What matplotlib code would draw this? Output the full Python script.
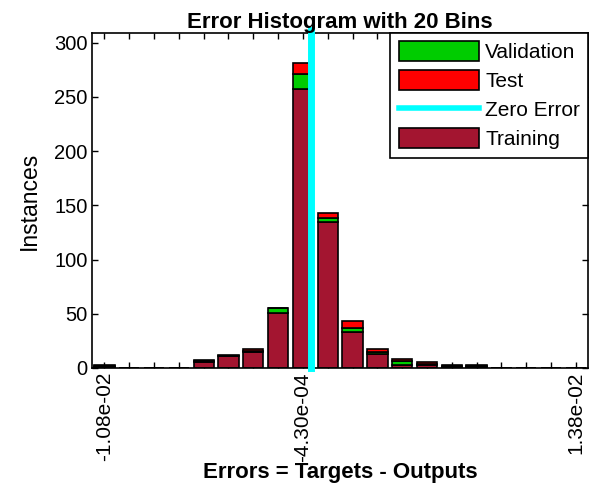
import numpy as np
import matplotlib
matplotlib.use("Agg")
import matplotlib.pyplot as plt
from matplotlib.patches import Patch
from matplotlib.lines import Line2D

plt.rcParams['font.family'] = ['Liberation Sans', 'DejaVu Sans']

# Histogram range (first and last bin centers), 20 bins
first_center = -1.08e-2
last_center = 1.38e-2
n_bins = 20
zero_bin_label = "-4.30e-04"
tick_labels = ["-1.08e-02", zero_bin_label, "1.38e-02"]
tick_bins = [0, 8, 19]

training = [1, 0, 0, 0, 5, 11, 15, 51, 257, 135, 33, 13, 3, 3, 1, 1, 0, 0, 0, 0]
validation = [1, 0, 0, 0, 1, 0, 1, 4, 14, 3, 4, 2, 3, 1, 1, 1, 0, 0, 0, 0]
test = [1, 0, 0, 0, 1, 1, 1, 0, 10, 5, 6, 2, 2, 1, 1, 1, 0, 0, 0, 0]

c_train = '#A31530'
c_val = '#00CC00'
c_test = '#FF0000'
c_zero = '#00FFFF'

w = (last_center - first_center) / (n_bins - 1)
centers = first_center + w * np.arange(n_bins)
training = np.array(training)
validation = np.array(validation)
test = np.array(test)

fig = plt.figure(figsize=(5.90, 4.86), dpi=100)
ax = fig.add_axes([0.156, 0.243, 0.841, 0.689])

bw = 0.82 * w
ax.bar(centers, training, width=bw, color=c_train, edgecolor='black', linewidth=1.2, zorder=2)
ax.bar(centers, validation, width=bw, bottom=training, color=c_val, edgecolor='black', linewidth=1.2, zorder=2)
ax.bar(centers, test, width=bw, bottom=training + validation, color=c_test, edgecolor='black', linewidth=1.2, zorder=2)
ax.axvline(0, ymin=0, ymax=1.01, color=c_zero, linewidth=5, zorder=3, clip_on=False)

ax.set_xlim(first_center - w / 2, last_center + w / 2)
ax.set_ylim(0, 309)
ax.set_yticks([0, 50, 100, 150, 200, 250, 300])
ax.set_xticks(centers[tick_bins])
ax.set_xticklabels(tick_labels, rotation=90)
ax.set_xticks(centers, minor=True)
ax.tick_params(axis='both', which='both', direction='in', top=True, right=True,
               length=4, width=1, labelsize=14.5, colors='black')
ax.tick_params(axis='x', which='major', pad=3, labelsize=15)
ax.tick_params(axis='y', which='major', pad=3)
for s in ax.spines.values():
    s.set_linewidth(1.2)

ax.set_title("Error Histogram with 20 Bins", fontsize=16, fontweight='bold', pad=3)
ax.set_xlabel("Errors = Targets - Outputs", fontsize=16, fontweight='bold', labelpad=0)
ax.set_ylabel("Instances", fontsize=16.5, labelpad=10)

handles = [
    Patch(facecolor=c_val, edgecolor='black', linewidth=1.2),
    Patch(facecolor=c_test, edgecolor='black', linewidth=1.2),
    Line2D([0], [0], color=c_zero, linewidth=4),
    Patch(facecolor=c_train, edgecolor='black', linewidth=1.2),
]
labels = ["Validation", "Test", "Zero Error", "Training"]
leg = ax.legend(handles, labels, loc='upper right', fontsize=15, handlelength=3.85,
                handleheight=1.1, labelspacing=0.38, handletextpad=0.3,
                borderaxespad=0.0, fancybox=False, framealpha=1, edgecolor='black',
                borderpad=0.4)
leg.get_frame().set_linewidth(1.2)

fig.savefig("out.png", dpi=100)
